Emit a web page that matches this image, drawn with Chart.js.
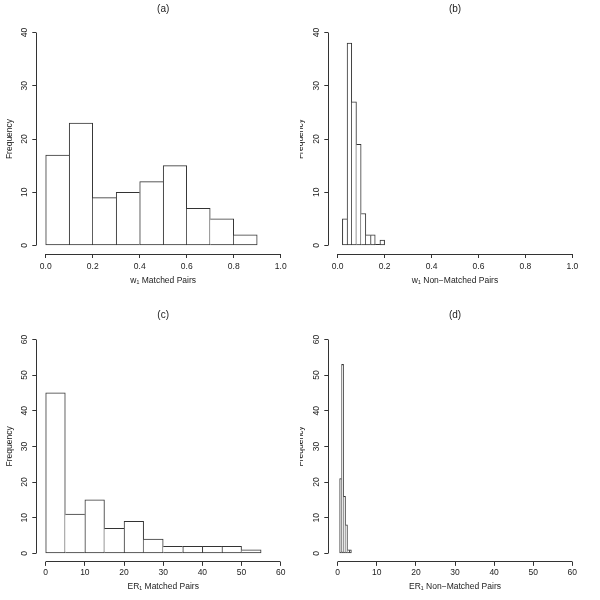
<!DOCTYPE html>
<html>
<head>
<meta charset="utf-8">
<script src="https://cdn.jsdelivr.net/npm/chart.js@4.4.1/dist/chart.umd.min.js"></script>
<style>
  html, body { margin: 0; padding: 0; background: #fff; }
  #grid {
    display: grid;
    grid-template-columns: 300px 300px;
    grid-template-rows: 300px 300px;
    width: 600px;
    height: 600px;
  }
  canvas { display: block; }
</style>
</head>
<body>
<div id="grid">
  <canvas id="hist-a" width="300" height="300"></canvas>
  <canvas id="hist-b" width="300" height="300"></canvas>
  <canvas id="hist-c" width="300" height="300"></canvas>
  <canvas id="hist-d" width="300" height="300"></canvas>
</div>
<script>
// (a) w1, matched pairs
const aBins = [0.0, 0.1, 0.2, 0.3, 0.4, 0.5, 0.6, 0.7, 0.8];
const aCounts = [17, 23, 9, 10, 12, 15, 7, 5, 2];
const aBinWidth = 0.1;

// (b) w1, non-matched pairs
const bBins = [0.02, 0.04, 0.06, 0.08, 0.10, 0.12, 0.14, 0.16, 0.18];
const bCounts = [5, 38, 27, 19, 6, 2, 2, 0, 1];
const bBinWidth = 0.02;

// (c) ER1, matched pairs
const cBins = [0, 5, 10, 15, 20, 25, 30, 35, 40, 45, 50];
const cCounts = [45, 11, 15, 7, 9, 4, 2, 2, 2, 2, 1];
const cBinWidth = 5;

// (d) ER1, non-matched pairs
const dBins = [0.5, 1.0, 1.5, 2.0, 2.5, 3.0];
const dCounts = [21, 53, 16, 8, 1, 1];
const dBinWidth = 0.5;

const wTicks = [0, 0.2, 0.4, 0.6, 0.8, 1.0];
const erTicks = [0, 10, 20, 30, 40, 50, 60];
const freqTicksTop = [0, 10, 20, 30, 40];
const freqTicksBottom = [0, 10, 20, 30, 40, 50, 60];

const LINE = '#333';
const TEXT = '#222';
const FONT = '"Liberation Sans", Arial, Helvetica, sans-serif';

Chart.defaults.font.family = FONT;
Chart.defaults.font.size = 8.5;
Chart.defaults.color = TEXT;

// shared edge between two bars is drawn once, by the taller one
function edgeWidths(counts, i) {
  return {
    top: 1,
    bottom: 1,
    left: i === 0 || counts[i] >= counts[i - 1] ? 1 : 0,
    right: i === counts.length - 1 || counts[i] > counts[i + 1] ? 1 : 0,
  };
}

function align(p) {
  return Math.round(p - 0.5) + 0.5;
}

// R style axis lines (first tick to last tick) and flat empty bins
const rAxes = {
  id: 'rAxes',
  afterDraw(chart) {
    const { ctx, chartArea } = chart;
    const x = chart.scales.x;
    const y = chart.scales.y;
    const xt = x.ticks;
    const yt = y.ticks;
    ctx.save();
    ctx.strokeStyle = LINE;
    ctx.lineWidth = 1;
    ctx.beginPath();
    const yb = align(chartArea.bottom);
    ctx.moveTo(align(x.getPixelForValue(xt[0].value)), yb);
    ctx.lineTo(align(x.getPixelForValue(xt[xt.length - 1].value)), yb);
    const xl = align(chartArea.left);
    ctx.moveTo(xl, align(y.getPixelForValue(yt[0].value)));
    ctx.lineTo(xl, align(y.getPixelForValue(yt[yt.length - 1].value)));
    ctx.stroke();

    // zero-count bins are drawn as a flat line on the base, like R does
    const meta = chart.getDatasetMeta(0);
    const values = chart.data.datasets[0].data;
    ctx.fillStyle = LINE;
    meta.data.forEach((bar, i) => {
      if (values[i].y !== 0) return;
      const p = bar.getProps(['x', 'width', 'base'], true);
      ctx.fillRect(p.x - p.width / 2, Math.round(p.base) - 1, p.width, 1);
    });
    ctx.restore();
  },
};

const leftCol = { yWidth: 36.3, padRight: 9.9, freqPad: 4.9, yTickPad: 3 };
const rightCol = { yWidth: 28.3, padRight: 18.3, freqPad: -4.2, yTickPad: 3 };
const topRow = { titlePad: { top: 3.5, bottom: 8.5 }, xHeight: 36, padBottom: 10, xTitlePad: 3.9, xTickPad: 3.5 };
const bottomRow = { titlePad: { top: 9, bottom: 9.9 }, xHeight: 30, padBottom: 8.1, xTitlePad: 0.1, xTickPad: 1.5 };

function histogram(id, h) {
  const { col, row } = h;
  const xr = h.xTicks[h.xTicks.length - 1] - h.xTicks[0];
  const yr = h.yTicks[h.yTicks.length - 1] - h.yTicks[0];
  return new Chart(document.getElementById(id), {
    type: 'bar',
    data: {
      datasets: [
        {
          data: h.bins.map((b, i) => ({ x: b + h.binWidth / 2, y: h.counts[i] })),
          backgroundColor: '#fff',
          borderColor: LINE,
          borderSkipped: false,
          borderWidth: (c) => edgeWidths(h.counts, c.dataIndex),
          barPercentage: 1,
          categoryPercentage: 1,
        },
      ],
    },
    options: {
      responsive: false,
      animation: false,
      layout: {
        padding: { left: 0, right: col.padRight, top: 0, bottom: row.padBottom },
      },
      plugins: {
        legend: { display: false },
        tooltip: { enabled: false },
        title: {
          display: true,
          text: h.title,
          fullSize: false,
          color: TEXT,
          font: { size: 10, weight: 'normal' },
          padding: row.titlePad,
        },
      },
      scales: {
        x: {
          type: 'linear',
          offset: false,
          min: h.xTicks[0] - 0.04 * xr,
          max: h.xTicks[h.xTicks.length - 1] + 0.04 * xr,
          afterBuildTicks: (s) => {
            s.ticks = h.xTicks.map((v) => ({ value: v }));
          },
          afterFit: (s) => {
            s.height = row.xHeight;
          },
          border: { display: false },
          grid: {
            offset: false,
            drawOnChartArea: false,
            drawTicks: true,
            tickLength: 4,
            color: LINE,
          },
          ticks: {
            padding: row.xTickPad,
            maxRotation: 0,
            autoSkip: false,
            callback: h.xFormat,
          },
          title: {
            display: true,
            text: h.xLabel,
            color: TEXT,
            padding: { top: 0, bottom: row.xTitlePad },
          },
        },
        y: {
          min: h.yTicks[0] - 0.04 * yr,
          max: h.yTicks[h.yTicks.length - 1] + 0.04 * yr,
          afterBuildTicks: (s) => {
            s.ticks = h.yTicks.map((v) => ({ value: v }));
          },
          afterFit: (s) => {
            s.width = col.yWidth;
          },
          border: { display: false },
          grid: {
            drawOnChartArea: false,
            drawTicks: true,
            tickLength: 4,
            color: LINE,
          },
          ticks: {
            padding: col.yTickPad,
            minRotation: 90,
            maxRotation: 90,
            crossAlign: 'center',
            autoSkip: false,
          },
          title: {
            display: true,
            text: 'Frequency',
            color: TEXT,
            padding: { top: col.freqPad, bottom: 0 },
          },
        },
      },
    },
    plugins: [rAxes],
  });
}

const oneDecimal = (v) => v.toFixed(1);
const whole = (v) => String(v);

histogram('hist-a', {
  title: '(a)', xLabel: 'w\u2081 Matched Pairs',
  bins: aBins, counts: aCounts, binWidth: aBinWidth,
  xTicks: wTicks, yTicks: freqTicksTop, xFormat: oneDecimal,
  col: leftCol, row: topRow,
});
histogram('hist-b', {
  title: '(b)', xLabel: 'w\u2081 Non\u2212Matched Pairs',
  bins: bBins, counts: bCounts, binWidth: bBinWidth,
  xTicks: wTicks, yTicks: freqTicksTop, xFormat: oneDecimal,
  col: rightCol, row: topRow,
});
histogram('hist-c', {
  title: '(c)', xLabel: 'ER\u2081 Matched Pairs',
  bins: cBins, counts: cCounts, binWidth: cBinWidth,
  xTicks: erTicks, yTicks: freqTicksBottom, xFormat: whole,
  col: leftCol, row: bottomRow,
});
histogram('hist-d', {
  title: '(d)', xLabel: 'ER\u2081 Non\u2212Matched Pairs',
  bins: dBins, counts: dCounts, binWidth: dBinWidth,
  xTicks: erTicks, yTicks: freqTicksBottom, xFormat: whole,
  col: rightCol, row: bottomRow,
});
</script>
</body>
</html>
